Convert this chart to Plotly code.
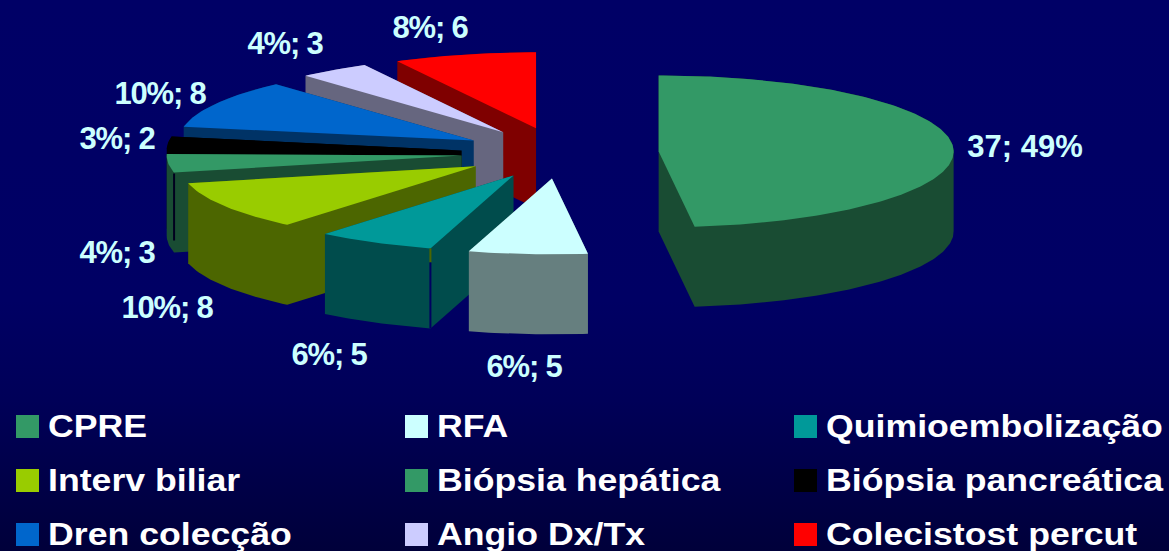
import math
import plotly.graph_objects as go

categories = ["CPRE", "RFA", "Quimioembolização", "Interv biliar", "Biópsia hepática",
              "Biópsia pancreática", "Dren colecção", "Angio Dx/Tx", "Colecistost percut"]
values = [37, 5, 5, 8, 3, 2, 8, 3, 6]
colors = ["#339966", "#CCFFFF", "#009999", "#99CC00", "#339966",
          "#000000", "#0066CC", "#CCCCFF", "#FF0000"]
slice_labels = ["37; 49%", "6%; 5", "6%; 5", "10%; 8", "4%; 3", "3%; 2", "10%; 8", "4%; 3", "8%; 6"]

# Pixel-based picture geometry
W, H = 1169, 551
CX, CY, RX, RY, DEPTH, PULL = 560.0, 153.0, 295.0, 76.0, 80.0, 0.335
label_pos = [(1025, 149), (524, 369), (329, 357), (167, 310), (117, 255),
             (117, 141), (160, 96), (285, 46), (430, 30)]
legend_x = [16, 405, 794]
legend_y = [426, 480, 534]

POST = """
document.body.style.margin='0';
document.body.style.overflow='hidden';
document.body.style.background='linear-gradient(to bottom,#000066 0px,#000064 300px,#000058 400px,#00003A 551px)';
document.querySelectorAll('.textpoint text').forEach(function(el){
  var t = el.textContent;
  if (t.indexOf('%;') >= 0) {
    el.style.letterSpacing = '-1.2px';
  } else if (t.indexOf(';') < 0) {
    var x = parseFloat(el.getAttribute('x')), s = 1.115;
    el.setAttribute('transform', 'translate(' + (x * (1 - s)) + ',0) scale(' + s + ',1)');
  }
});
"""


def hull(points):
    pts = sorted(set(points))
    def half(seq):
        out = []
        for p in seq:
            while len(out) > 1 and (out[-1][0]-out[-2][0])*(p[1]-out[-2][1]) - (out[-1][1]-out[-2][1])*(p[0]-out[-2][0]) <= 0:
                out.pop()
            out.append(p)
        return out[:-1]
    return half(pts) + half(pts[::-1])


def darker(c):
    return "#%02X%02X%02X" % tuple(int(c[i:i+2], 16) // 2 for i in (1, 3, 5))


total = sum(values)
fig = go.Figure()
angle = 0.0
traces = []
for name, v, col in zip(categories, values, colors):
    a0 = angle
    a1 = angle + 360.0 * v / total
    angle = a1
    mid = math.radians((a0 + a1) / 2)
    ax = CX + PULL * RX * math.sin(mid)
    ay = CY - PULL * RY * math.cos(mid)
    n = max(2, int(a1 - a0))
    arc = [(ax + RX * math.sin(math.radians(a0 + (a1 - a0) * i / n)),
            ay - RY * math.cos(math.radians(a0 + (a1 - a0) * i / n))) for i in range(n + 1)]
    top = [(ax, ay)] + arc + [(ax, ay)]
    traces.append((ay, name, col, top, arc[0]))

corner = {}
for ay, name, col, top, start in sorted(traces, key=lambda t: t[0]):
    corner[name] = start
    body = hull(top + [(x, y + DEPTH) for x, y in top])
    body.append(body[0])
    fig.add_trace(go.Scatter(x=[p[0] for p in body], y=[p[1] for p in body], mode="lines",
                             fill="toself", fillcolor=darker(col), line=dict(width=0),
                             hoverinfo="skip", name=name + " lado"))
    fig.add_trace(go.Scatter(x=[p[0] for p in top], y=[p[1] for p in top], mode="lines",
                             fill="toself", fillcolor=col, line=dict(width=0),
                             hoverinfo="skip", name=name))
    if name == "Biópsia hepática":
        fig.add_trace(go.Scatter(x=[start[0], start[0]], y=[start[1] + 1, start[1] + 68], mode="lines",
                                 line=dict(width=2, color="#00001E"), hoverinfo="skip"))

qx, qy = corner["Quimioembolização"]
fig.add_trace(go.Scatter(x=[qx, qx], y=[qy, qy + 14], mode="lines",
                         line=dict(width=2, color="#4D6600"), hoverinfo="skip"))
fig.add_trace(go.Scatter(x=[qx, qx], y=[qy + 14, qy + DEPTH], mode="lines",
                         line=dict(width=2, color="#000060"), hoverinfo="skip"))

fig.add_trace(go.Scatter(x=[p[0] for p in label_pos], y=[p[1] for p in label_pos], mode="text",
                         text=slice_labels, textposition="middle center", hoverinfo="skip",
                         textfont=dict(family="Liberation Sans", size=31, color="#CCFFFF", weight="bold")))

shapes = []
lx, ly, ltext = [], [], []
for i, (name, col) in enumerate(zip(categories, colors)):
    c, r = i % 3, i // 3
    shapes.append(dict(type="rect", xref="x", yref="y", x0=legend_x[c], x1=legend_x[c] + 23,
                       y0=legend_y[r] - 11, y1=legend_y[r] + 12, fillcolor=col, line=dict(width=0)))
    lx.append(legend_x[c] + 32)
    ly.append(legend_y[r] + 3)
    ltext.append(name)

fig.add_trace(go.Scatter(x=lx, y=ly, mode="text", text=ltext, textposition="middle right", hoverinfo="skip",
                         textfont=dict(family="Liberation Sans", size=32, color="#FFFFFF", weight="bold")))

fig.update_layout(width=W, height=H, autosize=False, margin=dict(l=0, r=0, t=0, b=0),
                  paper_bgcolor="rgba(0,0,0,0)", plot_bgcolor="rgba(0,0,0,0)",
                  showlegend=False, hovermode=False, shapes=shapes,
                  xaxis=dict(range=[0, W], visible=False, fixedrange=True),
                  yaxis=dict(range=[H, 0], visible=False, fixedrange=True))
fig.write_html("out.html", config=dict(displayModeBar=False), post_script=POST)
